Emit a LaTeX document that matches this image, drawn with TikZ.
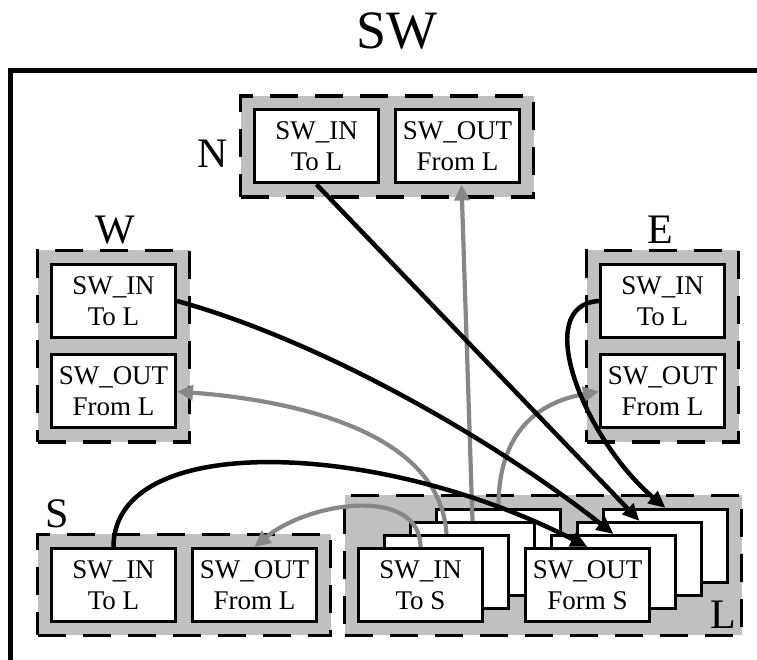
\documentclass[tikz,border=0pt]{standalone}
\usepackage{fontspec}
\setmainfont{Liberation Serif}
\usetikzlibrary{arrows.meta,fit,backgrounds}
\definecolor{grpgray}{RGB}{192,192,192}
\definecolor{arrgray}{RGB}{135,135,135}

\begin{document}
\begin{tikzpicture}[x=1pt,y=1pt,
    unit/.style={draw,line width=3pt,fill=white,minimum width=124pt,minimum height=73pt,
        inner sep=0pt,align=center,font=\fontsize{27}{31}\selectfont},
    grp/.style={draw,line width=3.5pt,fill=grpgray,dash pattern=on 28pt off 17pt,inner sep=12.5pt},
    tag/.style={font=\fontsize{42}{42}\selectfont,inner sep=0pt},
    blk/.style={line width=4.5pt,-{Triangle[length=17pt,width=15pt]}},
    gry/.style={line width=4.2pt,arrgray,-{Triangle[length=16pt,width=15pt]}}]

    \useasboundingbox (0,0) rectangle (757,660);

    % Titulo y marco
    \node[font=\fontsize{54}{54}\selectfont,inner sep=0pt] (title) at (397,628.5) {SW};
    \draw[line width=5pt] (10.5,-5) -- (10.5,589) -- (762,589);

    % Puerto N
    \node[unit] (nin)  at (316.5,513.5) {SW\_IN\\To L};
    \node[unit] (nout) at (457.5,513.5) {SW\_OUT\\From L};
    \node[tag] (tn) at (213,506.5) {N};

    % Puerto W
    \node[unit] (win)  at (113.5,359)   {SW\_IN\\To L};
    \node[unit] (wout) at (113.5,268.5) {SW\_OUT\\From L};
    \node[tag] (tw) at (115,430) {W};

    % Puerto E
    \node[unit] (ein)  at (662.5,359)   {SW\_IN\\To L};
    \node[unit] (eout) at (662.5,268.5) {SW\_OUT\\From L};
    \node[tag] (te) at (660,430) {E};

    % Puerto S
    \node[unit] (sin)  at (113.5,75) {SW\_IN\\To L};
    \node[unit] (sout) at (254.5,75) {SW\_OUT\\From L};
    \node[tag] (ts) at (57,146.5) {S};

    % Puerto L: pilas de buffers
    \foreach \i in {3,2,1}{
        \node[unit] (lin\i)  at (420.5+26*\i,75+13*\i) {};
        \node[unit] (lout\i) at (587.5+26*\i,75+13*\i) {};
    }
    \node[unit] (lin0)  at (420.5,75) {SW\_IN\\To S};
    \node[unit] (lout0) at (587.5,75) {SW\_OUT\\Form S};

    % Grupos
    \begin{scope}[on background layer]
        \node[grp,fit=(nin)(nout)] (gn) {};
        \node[grp,fit=(win)(wout)] (gw) {};
        \node[grp,fit=(ein)(eout)] (ge) {};
        \node[grp,fit=(sin)(sout)] (gs) {};
        \node[grp,fit=(lin0)(lout3)] (gl) {};
    \end{scope}
    \node[tag] (tl) at (723.5,45) {L};

    % Salidas de L (gris)
    \draw[gry] (lin0.north) .. controls (420,175) and (308,158) .. (sout.north);
    \draw[gry] (lin1.north) .. controls (440,230) and (290,260) .. (wout.east);
    \draw[gry] (lin2.north) -- ([xshift=4pt]nout.south);
    \draw[gry] (lin3.north) .. controls (498,230) and (540,258) .. (eout.west);

    % Entradas a L (negro)
    \draw[blk] (sin.north) .. controls (113.5,230) and (380,220) .. (lout0.north);
    \draw[blk] (win.east) .. controls (322,319) and (494,220) .. (lout1.north);
    \draw[blk] (nin.south) -- (lout2.north);
    \draw[blk] (ein.west) .. controls (530,355) and (585,220) .. (lout3.north);

\end{tikzpicture}
\end{document}
